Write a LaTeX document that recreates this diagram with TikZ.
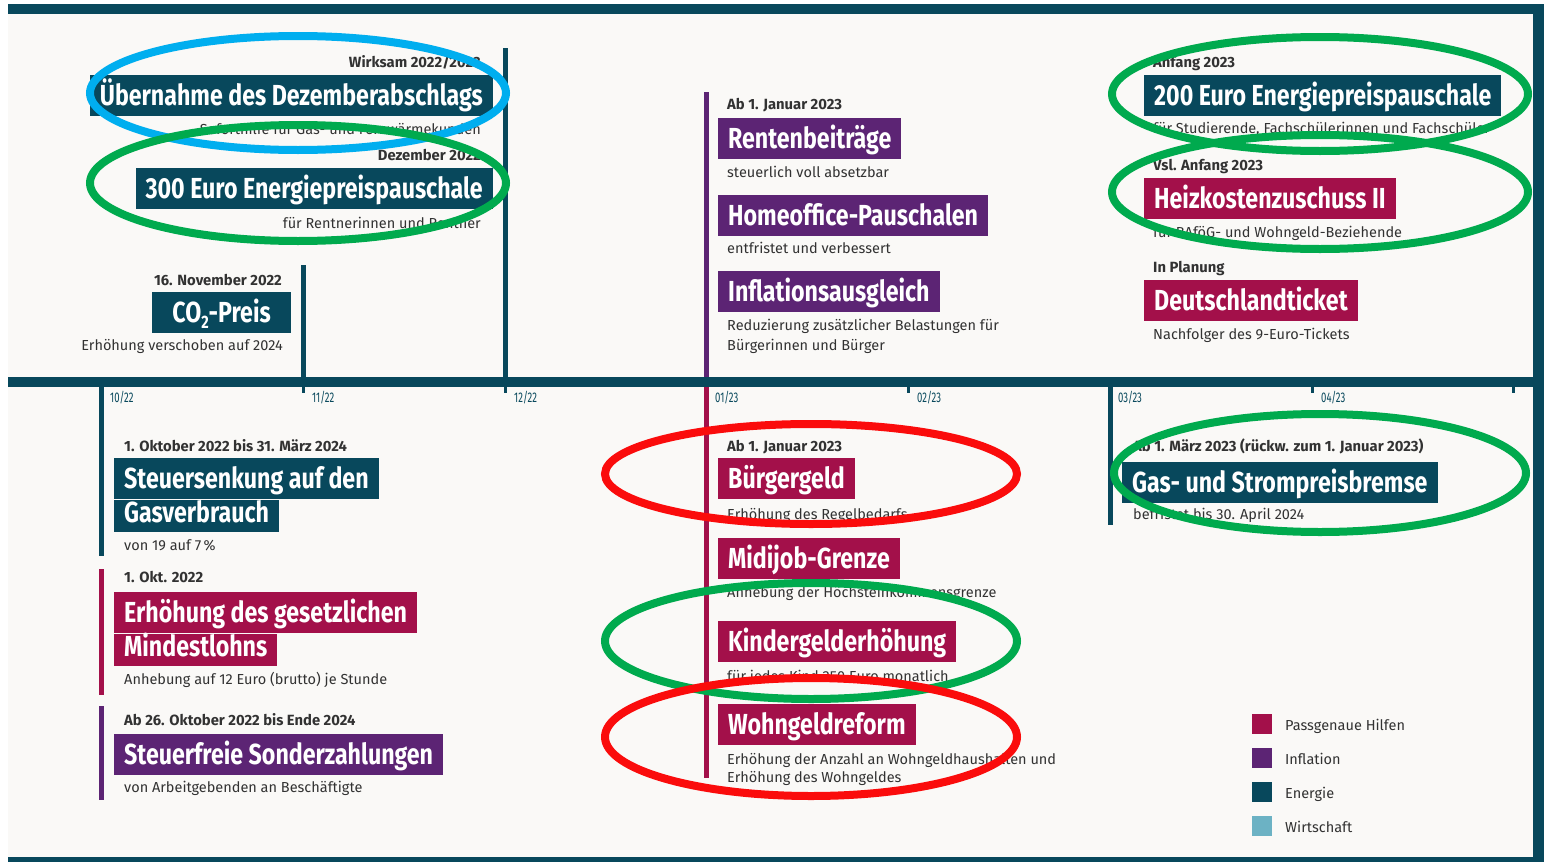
\documentclass[tikz,border=0pt]{standalone}
\usepackage{fontspec}
\setmainfont{Fira Sans}
\newfontfamily\tagfont[FakeStretch=0.80]{Fira Sans}
\newfontfamily\monthfont[FakeStretch=0.68]{Fira Sans}
\definecolor{energie}{RGB}{8,72,92}
\definecolor{passgenau}{RGB}{163,16,74}
\definecolor{inflation}{RGB}{92,36,116}
\definecolor{wirtschaft}{RGB}{108,178,196}
\definecolor{paper}{RGB}{250,249,247}
\definecolor{ink}{RGB}{50,50,50}
\definecolor{ringblue}{RGB}{0,174,239}
\definecolor{ringgreen}{RGB}{0,170,78}
\definecolor{ringred}{RGB}{250,12,12}

\begin{document}
\begin{tikzpicture}[x=1pt,y=-1pt,
  tag/.style={anchor=north west,fill=#1,text=white,inner xsep=10pt,inner ysep=0pt,
    font={\tagfont\bfseries\fontsize{29}{29}\selectfont},text height=30pt,text depth=11pt},
  tagtwo/.style={tag=#1,text height=23pt,text depth=9pt},
  date/.style={anchor=base west,inner sep=0pt,text=ink,font={\bfseries\fontsize{14.8}{16}\selectfont}},
  note/.style={anchor=base west,inner sep=0pt,text=ink,font={\fontsize{14.5}{16}\selectfont}},
  stemline/.style={line width=5pt},
  tickmark/.style={line width=3pt,energie},
  month/.style={anchor=base west,inner sep=0pt,text=energie,font={\monthfont\fontsize{14}{14}\selectfont}},
  legendbox/.style={anchor=north west,minimum size=20pt,inner sep=0pt,fill=#1},
  ring/.style={line width=8pt}]
  \useasboundingbox (0,0) rectangle (1544,862);
  \pgfmathsetmacro\axtop{377}
  \pgfmathsetmacro\axbot{387}
  % paper and frame:
  \fill[paper] (8,14) rectangle (1533,857);
  \fill[energie] (8,4) rectangle (1544,14);
  \fill[energie] (1533,4) rectangle (1544,862);
  \fill[energie] (8,857) rectangle (1544,862);
  % time axis:
  \fill[energie] (8,\axtop) rectangle (1533,\axbot);
  \draw[tickmark] (303,\axbot) -- (303,393);
  \draw[tickmark] (505,\axbot) -- (505,393);
  \draw[tickmark] (908,\axbot) -- (908,393);
  \draw[tickmark] (1312,\axbot) -- (1312,393);
  \draw[tickmark] (1513,\axbot) -- (1513,393);
  \node[month] (m10) at (110,402) {10/22};
  \node[month] (m11) at (312,402) {11/22};
  \node[month] (m12) at (514,402) {12/22};
  \node[month] (m01) at (715,402) {01/23};
  \node[month] (m02) at (917,402) {02/23};
  \node[month] (m03) at (1118,402) {03/23};
  \node[month] (m04) at (1321,402) {04/23};

  % stems above the axis:
  \draw[stemline,energie] (505,48) -- (505,\axtop);
  \draw[stemline,energie] (303,265) -- (303,\axtop);
  \draw[stemline,inflation] (706,92) -- (706,\axtop);
  % stems below the axis:
  \draw[stemline,energie] (101,\axbot) -- (101,556);
  \draw[stemline,passgenau] (101,569) -- (101,695);
  \draw[stemline,inflation] (101,706) -- (101,800);
  \draw[stemline,passgenau] (706,\axbot) -- (706,778);
  \draw[stemline,energie] (1110,\axbot) -- (1110,525);

  % december items, right aligned:
  \node[date,anchor=base east] (d1) at (481,67) {Wirksam 2022/2023};
  \node[tag=energie,anchor=north east] (abschlag) at (493,75) {Übernahme des Dezemberabschlags};
  \node[note,anchor=base east] (n1) at (481,134) {Soforthilfe für Gas- und Fernwärmekunden};
  \node[date,anchor=base east] (d2) at (481,160) {Dezember 2022};
  \node[tag=energie,anchor=north east] (rentner) at (493,168) {300 Euro Energiepreispauschale};
  \node[note,anchor=base east] (n2) at (481,228) {für Rentnerinnen und Rentner};
  % november item:
  \node[date,anchor=base east] (d3) at (282,285) {16. November 2022};
  \node[tag=energie,anchor=north east,inner xsep=20pt] (co2) at (291,292) {CO\raisebox{-6pt}{\fontsize{18}{18}\selectfont 2}-Preis};
  \node[note,anchor=base east] (n3) at (283,350) {Erhöhung verschoben auf 2024};

  % january items above:
  \node[date] (d4) at (727,109) {Ab 1. Januar 2023};
  \node[tag=inflation] (rente) at (718,118) {Rentenbeiträge};
  \node[note] (n4) at (727,177) {steuerlich voll absetzbar};
  \node[tag=inflation] (homeoffice) at (718,195) {Homeoffice-Pauschalen};
  \node[note] (n5) at (727,253) {entfristet und verbessert};
  \node[tag=inflation] (ausgleich) at (718,271) {Inflationsausgleich};
  \node[note] (n6) at (727,330) {Reduzierung zusätzlicher Belastungen für};
  \node[note] (n6b) at (727,350) {Bürgerinnen und Bürger};

  % early 2023 items:
  \node[date] (d5) at (1153,67) {Anfang 2023};
  \node[tag=energie] (studis) at (1144,75) {200 Euro Energiepreispauschale};
  \node[note] (n7) at (1153,133) {für Studierende, Fachschülerinnen und Fachschüler};
  \node[date] (d6) at (1153,170) {Vsl. Anfang 2023};
  \node[tag=passgenau] (heiz) at (1144,178) {Heizkostenzuschuss II};
  \node[note] (n8) at (1153,237) {für BAföG- und Wohngeld-Beziehende};
  \node[date] (d7) at (1153,272) {In Planung};
  \node[tag=passgenau] (ticket) at (1144,280) {Deutschlandticket};
  \node[note] (n9) at (1153,339) {Nachfolger des 9-Euro-Tickets};

  % october items:
  \node[date] (d8) at (124,451) {1. Oktober 2022 bis 31. März 2024};
  \node[tag=energie] (gas1) at (114,458) {Steuersenkung auf den};
  \node[tagtwo=energie] (gas2) at (gas1.south west) {Gasverbrauch};
  \node[note] (n10) at (124,550) {von 19 auf 7\,\%};
  \node[date] (d9) at (124,582) {1. Okt. 2022};
  \node[tag=passgenau] (lohn1) at (114,592) {Erhöhung des gesetzlichen};
  \node[tagtwo=passgenau] (lohn2) at (lohn1.south west) {Mindestlohns};
  \node[note] (n11) at (124,684) {Anhebung auf 12 Euro (brutto) je Stunde};
  \node[date] (d10) at (124,725) {Ab 26. Oktober 2022 bis Ende 2024};
  \node[tag=inflation] (sonder) at (114,734) {Steuerfreie Sonderzahlungen};
  \node[note] (n12) at (124,792) {von Arbeitgebenden an Beschäftigte};

  % january items below:
  \node[date] (d11) at (727,451) {Ab 1. Januar 2023};
  \node[tag=passgenau] (buerger) at (718,458) {Bürgergeld};
  \node[note] (n13) at (727,519) {Erhöhung des Regelbedarfs};
  \node[tag=passgenau] (midi) at (718,538) {Midijob-Grenze};
  \node[note] (n14) at (727,597) {Anhebung der Höchsteinkommensgrenze};
  \node[tag=passgenau] (kind) at (718,621) {Kindergelderhöhung};
  \node[note] (n15) at (727,681) {für jedes Kind 250 Euro monatlich};
  \node[tag=passgenau] (wohn) at (718,704) {Wohngeldreform};
  \node[note] (n16) at (727,764) {Erhöhung der Anzahl an Wohngeldhaushalten und};
  \node[note] (n16b) at (727,782) {Erhöhung des Wohngeldes};

  % march item:
  \node[date] (d12) at (1133,451) {Ab 1. März 2023 (rückw. zum 1. Januar 2023)};
  \node[tag=energie] (bremse) at (1122,462) {Gas- und Strompreisbremse};
  \node[note] (n17) at (1133,519) {befristet bis 30. April 2024};

  % legend:
  \node[legendbox=passgenau] (k1) at (1252,714) {};
  \node[legendbox=inflation] (k2) at (1252,748) {};
  \node[legendbox=energie] (k3) at (1252,782) {};
  \node[legendbox=wirtschaft] (k4) at (1252,816) {};
  \node[note] (l1) at (1285,730) {Passgenaue Hilfen};
  \node[note] (l2) at (1285,764) {Inflation};
  \node[note] (l3) at (1285,798) {Energie};
  \node[note] (l4) at (1285,832) {Wirtschaft};

  % hand drawn rings:
  \draw[ring,ringblue] (298,93) ellipse [x radius=208, y radius=57];
  \draw[ring,ringgreen] (298,183) ellipse [x radius=208, y radius=58];
  \draw[ring,ringgreen] (1320,94) ellipse [x radius=208, y radius=57];
  \draw[ring,ringgreen] (1320,192) ellipse [x radius=208, y radius=57];
  \draw[ring,ringgreen] (1320,473) ellipse [x radius=206, y radius=59];
  \draw[ring,ringred] (811,474) ellipse [x radius=206, y radius=50];
  \draw[ring,ringgreen] (811,641) ellipse [x radius=206, y radius=58];
  \draw[ring,ringred] (811,737) ellipse [x radius=206, y radius=59];
\end{tikzpicture}
\end{document}
